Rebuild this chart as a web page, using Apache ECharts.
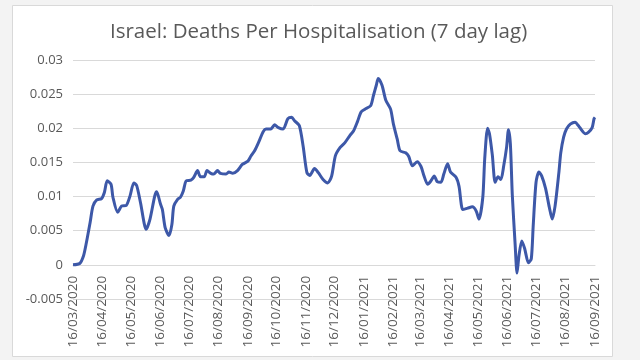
<!DOCTYPE html>
<html>
<head>
<meta charset="utf-8">
<script src="https://cdn.jsdelivr.net/npm/echarts@6/dist/echarts.min.js"></script>
<style>
html,body{margin:0;padding:0;background:#f3f3f3;}
#chart{width:640px;height:360px;}
</style>
</head>
<body>
<div id="chart"></div>
<script>
// ---- data ----
const titleText = 'Israel: Deaths Per Hospitalisation (7 day lag)';

const tickDates = ['2020-03-16','2020-04-16','2020-05-16','2020-06-16','2020-07-16','2020-08-16','2020-09-16',
  '2020-10-16','2020-11-16','2020-12-16','2021-01-16','2021-02-16','2021-03-16','2021-04-16','2021-05-16',
  '2021-06-16','2021-07-16','2021-08-16','2021-09-16'];

const yTicks = [-0.005, 0, 0.005, 0.01, 0.015, 0.02, 0.025, 0.03];

const dates = [
  '2020-03-16','2020-03-23','2020-03-27','2020-03-30','2020-04-03','2020-04-06','2020-04-10','2020-04-15',
  '2020-04-18','2020-04-21','2020-04-25','2020-04-27','2020-05-02','2020-05-06','2020-05-11','2020-05-15',
  '2020-05-19','2020-05-22','2020-05-26','2020-06-01','2020-06-05','2020-06-10','2020-06-12','2020-06-16',
  '2020-06-18','2020-06-21','2020-06-25','2020-06-28','2020-06-30','2020-07-04','2020-07-07','2020-07-10',
  '2020-07-13','2020-07-18','2020-07-21','2020-07-25','2020-07-28','2020-08-01','2020-08-04','2020-08-08',
  '2020-08-11','2020-08-15','2020-08-18','2020-08-24','2020-08-27','2020-08-31','2020-09-05','2020-09-10',
  '2020-09-16','2020-09-19','2020-09-23','2020-09-28','2020-10-02','2020-10-05','2020-10-10','2020-10-14',
  '2020-10-18','2020-10-23','2020-10-28','2020-11-01','2020-11-04','2020-11-09','2020-11-13','2020-11-17',
  '2020-11-20','2020-11-25','2020-11-29','2020-12-04','2020-12-09','2020-12-13','2020-12-17','2020-12-22',
  '2020-12-27','2021-01-01','2021-01-05','2021-01-09','2021-01-13','2021-01-17','2021-01-23','2021-01-26',
  '2021-01-29','2021-01-31','2021-02-04','2021-02-08','2021-02-13','2021-02-16','2021-02-20','2021-02-23',
  '2021-03-01','2021-03-04','2021-03-08','2021-03-13','2021-03-17','2021-03-20','2021-03-24','2021-03-27',
  '2021-03-31','2021-04-03','2021-04-07','2021-04-10','2021-04-14','2021-04-17','2021-04-23','2021-04-26',
  '2021-04-30','2021-05-05','2021-05-10','2021-05-14','2021-05-17','2021-05-21','2021-05-23','2021-05-26',
  '2021-05-28','2021-05-31','2021-06-03','2021-06-06','2021-06-09','2021-06-12','2021-06-15','2021-06-17',
  '2021-06-19','2021-06-21','2021-06-24','2021-06-26','2021-06-28','2021-07-01','2021-07-04','2021-07-08',
  '2021-07-11','2021-07-13','2021-07-16','2021-07-19','2021-07-22','2021-07-26','2021-07-30','2021-08-02',
  '2021-08-05','2021-08-09','2021-08-11','2021-08-14','2021-08-17','2021-08-21','2021-08-26','2021-08-31',
  '2021-09-06','2021-09-09','2021-09-13','2021-09-15','2021-09-16'
];

const deathsPerHosp = [
  0.0000,0.0002,0.0013,0.0032,0.0062,0.0086,0.0095,0.0097,
  0.0106,0.0123,0.0118,0.0099,0.0077,0.0086,0.0087,0.0101,
  0.0120,0.0116,0.0091,0.0052,0.0067,0.0101,0.0107,0.0089,
  0.0081,0.0054,0.0043,0.0059,0.0086,0.0096,0.0099,0.0108,
  0.0123,0.0124,0.0128,0.0138,0.0129,0.0129,0.0138,0.0134,
  0.0133,0.0138,0.0134,0.0133,0.0136,0.0134,0.0138,0.0147,
  0.0152,0.0159,0.0167,0.0182,0.0195,0.0199,0.0199,0.0205,
  0.0201,0.0199,0.0214,0.0216,0.0211,0.0204,0.0174,0.0135,
  0.0131,0.0141,0.0135,0.0125,0.0120,0.0130,0.0160,0.0172,
  0.0179,0.0189,0.0196,0.0209,0.0224,0.0228,0.0233,0.0248,
  0.0263,0.0273,0.0263,0.0241,0.0228,0.0206,0.0184,0.0167,
  0.0164,0.0159,0.0145,0.0151,0.0144,0.0131,0.0118,0.0122,
  0.0130,0.0122,0.0121,0.0133,0.0148,0.0136,0.0128,0.0115,
  0.0081,0.0083,0.0085,0.0079,0.0067,0.0099,0.0155,0.0200,
  0.0192,0.0161,0.0121,0.0129,0.0125,0.0145,0.0172,0.0198,
  0.0177,0.0103,0.0030,-0.0012,0.0013,0.0035,0.0024,0.0003,
  0.0009,0.0057,0.0121,0.0136,0.0130,0.0112,0.0084,0.0067,
  0.0086,0.0135,0.0164,0.0187,0.0199,0.0206,0.0209,0.0201,
  0.0192,0.0194,0.0201,0.0214,0.0216
];

// ---- chart ----
function toTime(s){ const p = s.split('-').map(Number); return Date.UTC(p[0], p[1]-1, p[2]); }
function pad(n){ return (n < 10 ? '0' : '') + n; }
function fmtDate(v){ const d = new Date(v); return pad(d.getUTCDate()) + '/' + pad(d.getUTCMonth()+1) + '/' + d.getUTCFullYear(); }

const tickTimes = tickDates.map(toTime);
const seriesData = dates.map((d, i) => [toTime(d), deathsPerHosp[i]]);

const gridTop = 60, gridBottom = 61, gridHeight = 360 - gridTop - gridBottom;
const yMin = yTicks[0], yMax = yTicks[yTicks.length - 1];
// the category axis crosses the value axis at 0, like the original
const zeroOffset = -gridHeight * (0 - yMin) / (yMax - yMin);

const chart = echarts.init(document.getElementById('chart'), null, {renderer: 'canvas'});
const textColor = '#595959';
chart.setOption({
  backgroundColor: '#f3f3f3',
  animation: false,
  graphic: [{
    type: 'rect', z: -10, silent: true,
    shape: {x: 12.5, y: 5.5, width: 600, height: 351},
    style: {fill: '#ffffff', stroke: '#d9d9d9', lineWidth: 1}
  }],
  title: {
    text: titleText, left: 105, top: 17,
    textStyle: {fontFamily: 'Open Sans', fontSize: 20.5, fontWeight: 'normal', color: textColor}
  },
  grid: {left: 73, right: 45, top: gridTop, bottom: gridBottom, containLabel: false, outerBoundsMode: 'none'},
  xAxis: {
    type: 'value',
    min: tickTimes[0], max: tickTimes[tickTimes.length - 1],
    offset: zeroOffset,
    axisLine: {show: true, onZero: false, lineStyle: {color: '#d9d9d9', width: 1}},
    axisTick: {show: false},
    splitLine: {show: false},
    axisLabel: {
      customValues: tickTimes,
      rotate: 90, margin: 11, hideOverlap: false,
      color: textColor, fontFamily: 'Open Sans', fontSize: 13.5,
      formatter: v => fmtDate(v)
    }
  },
  yAxis: {
    type: 'value', min: yMin, max: yMax, interval: 0.005,
    axisLine: {show: false}, axisTick: {show: false},
    splitLine: {lineStyle: {color: '#d9d9d9', width: 1}},
    axisLabel: {color: textColor, fontFamily: 'Open Sans', fontSize: 13, margin: 10,
      formatter: v => String(+v.toFixed(3))}
  },
  series: [{
    type: 'line', data: seriesData, showSymbol: false, smooth: 0.25,
    lineStyle: {color: '#3d58a8', width: 3},
    itemStyle: {color: '#3d58a8'}
  }]
});
</script>
</body>
</html>
